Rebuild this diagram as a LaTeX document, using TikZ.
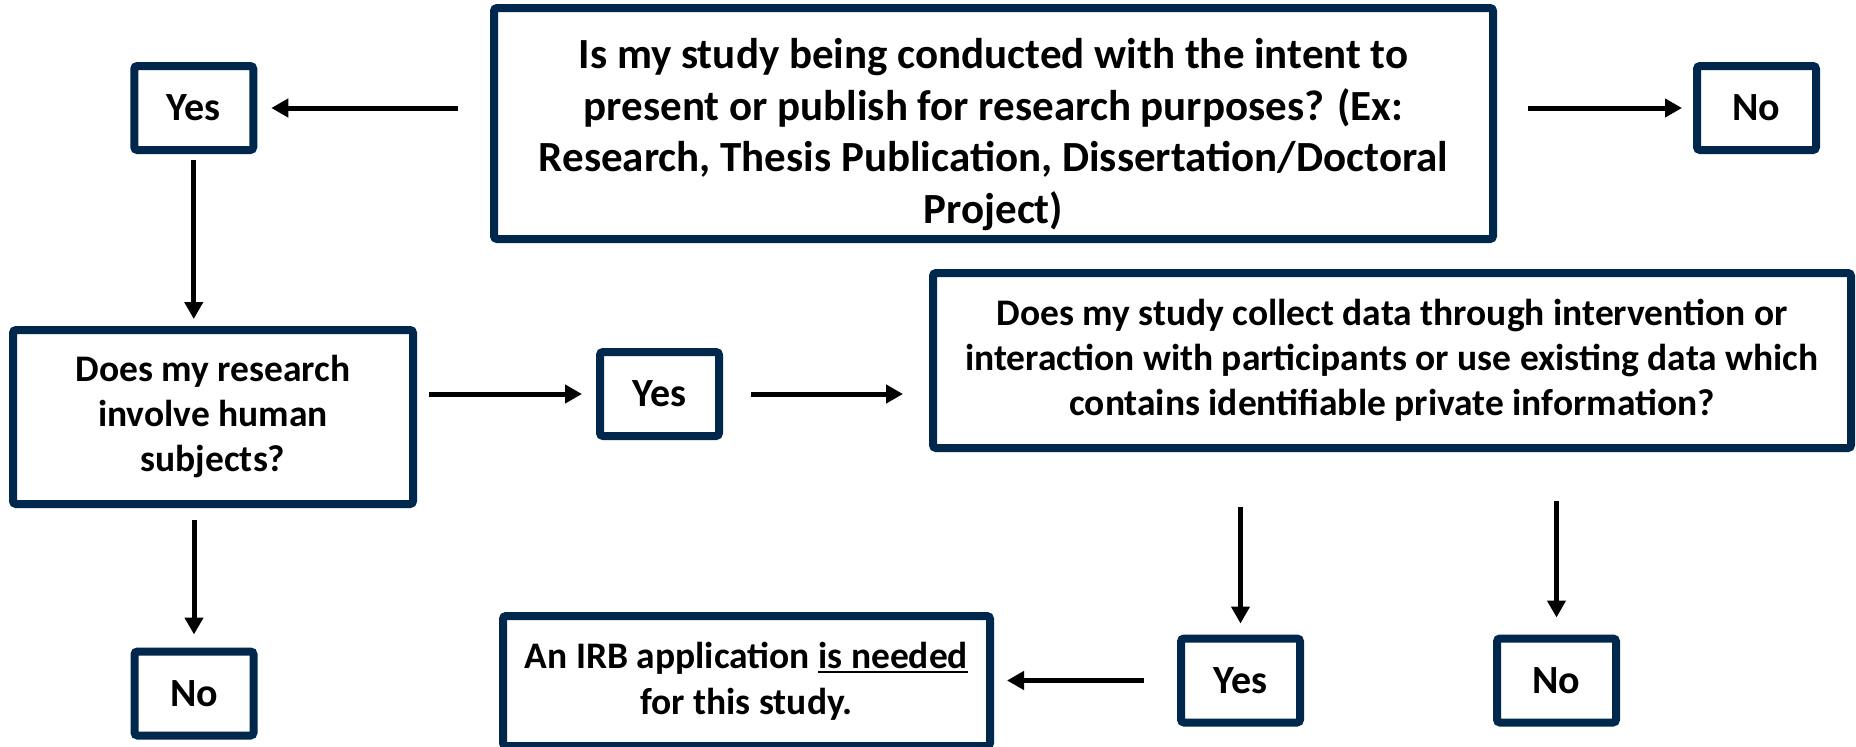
\documentclass[tikz,border=0pt]{standalone}
\usepackage{fontspec}
\setmainfont{Carlito}
\usetikzlibrary{arrows.meta}
\definecolor{navy}{RGB}{0,40,77}
\newcommand\myul[1]{\setbox0\hbox{#1}\rlap{\rule[-5pt]{\wd0}{2pt}}\box0}
\begin{document}
\begin{tikzpicture}[x=1pt,y=-1pt,
  box/.style={draw=navy, line width=8pt, rounded corners=3pt, fill=white, align=center,
    font=\bfseries\fontsize{37.5}{45}\selectfont, inner sep=0pt},
  small/.style={box, minimum width=119pt, minimum height=84pt,
    font=\bfseries\fontsize{40}{45}\selectfont},
  arr/.style={line width=5pt, -{Triangle[length=17pt,width=18pt]}}]
\useasboundingbox (0,0) rectangle (1856,747);
\node[box, minimum width=999pt, minimum height=231pt,
  font=\bfseries\fontsize{43}{51.5}\selectfont] (Q1) at (993.5,123.5)
  {\rule{0pt}{52pt}Is my study being conducted with the intent to\\ present or publish for research purposes? (Ex:\\ Research, Thesis Publication, Dissertation/Doctoral\\ Project)};
\node[small] (Y1) at (193.75,108) {Yes};
\node[small] (N1) at (1756.5,108) {No};
\node[box, minimum width=400pt, minimum height=174pt] (Q2) at (213,417)
  {Does my research\\ involve human\\ subjects?};
\node[small] (Y2) at (659.5,394) {Yes};
\node[box, minimum width=918pt, minimum height=175pt] (Q3) at (1392,360.5)
  {Does my study collect data through intervention or\\ interaction with participants or use existing data which\\ contains identifiable private information?};
\node[small] (N2) at (194,693.5) {No};
\node[small] (Y3) at (1240.5,680.5) {Yes};
\node[small] (N3) at (1556.5,680.5) {No};
\node[box, minimum width=487pt, minimum height=130pt,
  font=\bfseries\fontsize{37.5}{46}\selectfont] (IRB) at (746.5,681)
  {An IRB application \myul{is needed}\\ for this study.};
\draw[arr, shorten <=32pt, shorten >=14pt] (Q1.west |- Y1) -- (Y1.east);
\draw[arr, shorten <=31pt, shorten >=11pt] (Q1.east |- N1) -- (N1.west);
\draw[arr, shorten <=6pt, shorten >=7pt] (Y1.south) -- (Y1.south |- Q2.north);
\draw[arr, shorten <=12pt, shorten >=14pt] (Q2.east |- Y2) -- (Y2.west);
\draw[arr, shorten <=28pt, shorten >=26pt] (Y2.east) -- (Q3.west |- Y2);
\draw[arr, shorten <=12pt, shorten >=13pt] (Q2.south -| N2) -- (N2.north);
\draw[arr, shorten <=55pt, shorten >=11pt] (Q3.south -| Y3) -- (Y3.north);
\draw[arr, shorten <=49pt, shorten >=17pt] (Q3.south -| N3) -- (N3.north);
\draw[arr, shorten <=33pt, shorten >=13pt] (Y3.west) -- (IRB.east |- Y3);
\end{tikzpicture}
\end{document}
